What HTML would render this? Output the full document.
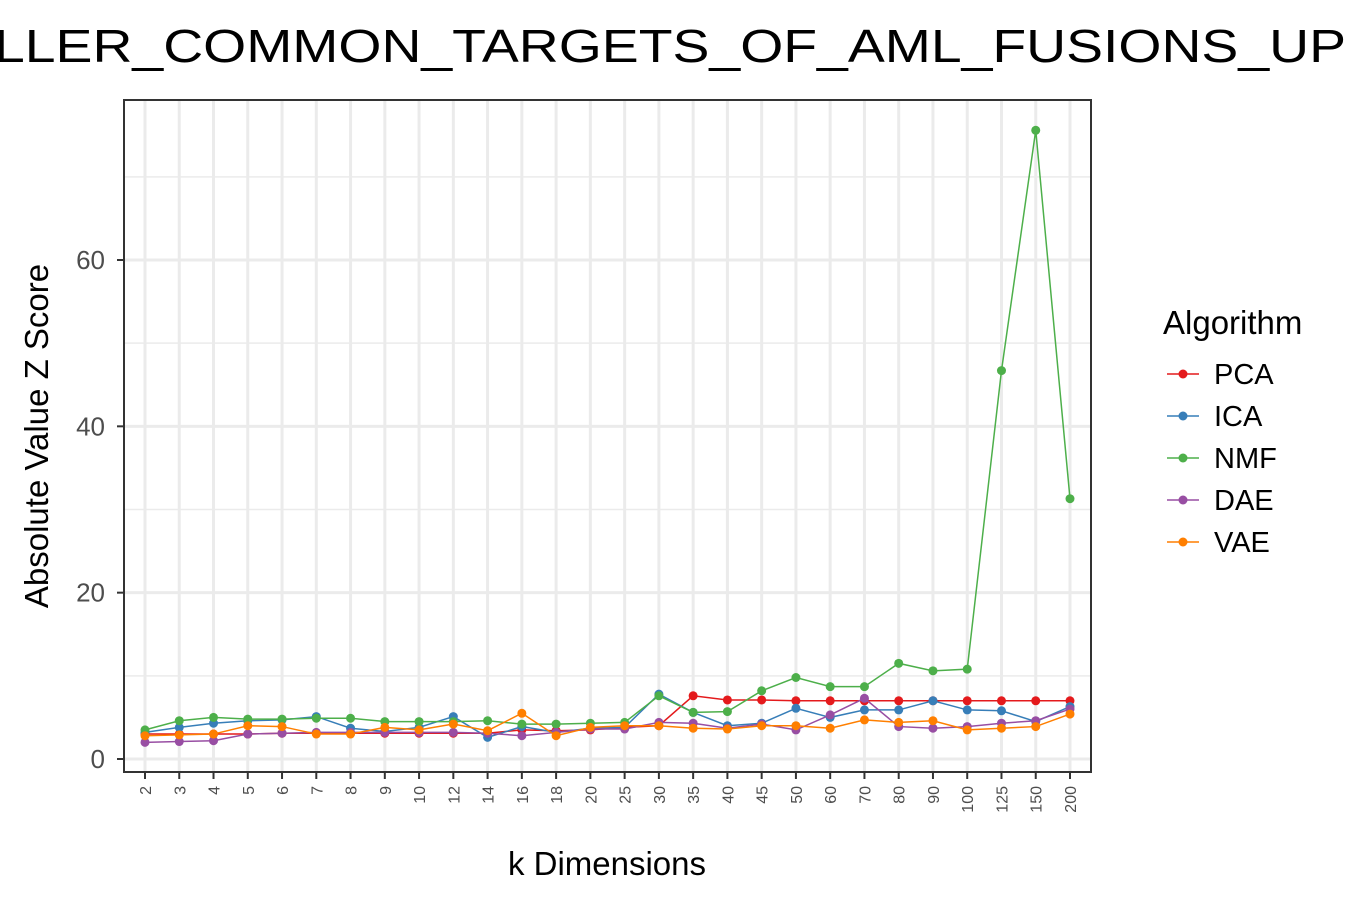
<!DOCTYPE html>
<html><head><meta charset="utf-8"><style>
body{margin:0;background:#fff;font-family:"Liberation Sans",Arial,sans-serif}
</style></head><body>
<svg id="chart" width="1350" height="900" xmlns="http://www.w3.org/2000/svg" font-family="Liberation Sans, Arial, sans-serif">
<text x="-6" y="62" font-size="46" textLength="1352" lengthAdjust="spacingAndGlyphs">LLER_COMMON_TARGETS_OF_AML_FUSIONS_UP</text>
<g id="grid"></g>
<g id="series"></g>
<rect x="124" y="100" width="967" height="672" fill="none" stroke="#333" stroke-width="2"/>
<g id="axes"></g>
<text x="607" y="875" font-size="33" text-anchor="middle">k Dimensions</text>
<text transform="translate(48,436) rotate(-90)" font-size="33" text-anchor="middle">Absolute Value Z Score</text>
<g id="legend"></g>
</svg>
<script>
const categories=["2","3","4","5","6","7","8","9","10","12","14","16","18","20","25","30","35","40","45","50","60","70","80","90","100","125","150","200"];
const yTicks=[0,20,40,60];
const yMinor=[10,30,50,70];
const seriesNames=["PCA","ICA","NMF","DAE","VAE"];
const seriesColors=["#E41A1C","#377EB8","#4DAF4A","#984EA3","#FF7F00"];
const pca=[3.0,3.0,3.0,3.0,3.1,3.1,3.1,3.1,3.1,3.1,3.1,3.5,3.4,3.5,3.8,4.0,7.6,7.1,7.1,7.0,7.0,7.0,7.0,7.0,7.0,7.0,7.0,7.0];
const ica=[3.2,3.8,4.3,4.6,4.7,5.1,3.7,3.3,3.8,5.1,2.6,3.9,3.2,3.7,3.8,7.8,5.6,4.0,4.3,6.1,5.0,5.9,5.9,7.0,5.9,5.8,4.5,6.3];
const nmf=[3.5,4.6,5.0,4.8,4.8,4.9,4.9,4.5,4.5,4.5,4.6,4.2,4.2,4.3,4.4,7.6,5.6,5.7,8.2,9.8,8.7,8.7,11.5,10.6,10.8,46.7,75.6,31.3];
const dae=[2.0,2.1,2.2,3.0,3.1,3.2,3.2,3.2,3.2,3.2,3.1,2.8,3.2,3.6,3.6,4.4,4.3,3.7,4.2,3.5,5.3,7.3,3.9,3.7,3.9,4.3,4.6,6.0];
const vae=[2.8,2.9,3.0,4.0,3.9,3.0,3.0,3.8,3.5,4.2,3.4,5.5,2.8,3.8,4.0,4.0,3.7,3.6,4.0,4.0,3.7,4.7,4.4,4.6,3.5,3.7,3.9,5.4];
const allSeries=[pca,ica,nmf,dae,vae];
const NS="http://www.w3.org/2000/svg";
function X(i){return 145+i*(1070-145)/(categories.length-1);}
function Y(v){return 759-v*(759-260)/60;}
function mk(tag,attrs,parent){const e=document.createElementNS(NS,tag);for(const k in attrs)e.setAttribute(k,attrs[k]);parent.appendChild(e);return e;}
const grid=document.getElementById('grid'),axes=document.getElementById('axes'),ser=document.getElementById('series'),leg=document.getElementById('legend');
yMinor.forEach(v=>{const l=mk('line',{x1:124,x2:1091,y1:Y(v),y2:Y(v),stroke:'#ebebeb','stroke-width':1.5},grid);

});
yTicks.forEach(v=>{const l=mk('line',{x1:124,x2:1091,y1:Y(v),y2:Y(v),stroke:'#ebebeb','stroke-width':3},grid);


const t=mk('line',{x1:117,x2:124,y1:Y(v),y2:Y(v),stroke:'#333','stroke-width':2},axes);


const tx=mk('text',{x:105,y:Y(v)+9,'font-size':26,fill:'#4d4d4d','text-anchor':'end'},axes);tx.textContent=v;

});
categories.forEach((c,i)=>{const l=mk('line',{x1:X(i),x2:X(i),y1:100,y2:772,stroke:'#ebebeb','stroke-width':3},grid);


const t=mk('line',{x1:X(i),x2:X(i),y1:772,y2:779,stroke:'#333','stroke-width':2},axes);


const tx=mk('text',{transform:`translate(${X(i)+6},786) rotate(-90)`,'font-size':16,fill:'#4d4d4d','text-anchor':'end'},axes);tx.textContent=c;

});
allSeries.forEach((s,k)=>{const pts=s.map((v,i)=>X(i)+','+Y(v)).join(' ');
const pl=mk('polyline',{points:pts,fill:'none',stroke:seriesColors[k],'stroke-width':1.5},ser);


s.forEach((v,i)=>{const c=mk('circle',{cx:X(i),cy:Y(v),r:4.5,fill:seriesColors[k]},ser);

});});
const lt=mk('text',{x:1163,y:334,'font-size':33},leg);lt.textContent='Algorithm';


seriesNames.forEach((n,k)=>{const y=374+k*42;
const g=mk('g',{},leg);


mk('line',{x1:1167,x2:1199,y1:y,y2:y,stroke:seriesColors[k],'stroke-width':1.5},g);
mk('circle',{cx:1183,cy:y,r:4.5,fill:seriesColors[k]},g);
const t=mk('text',{x:1214,y:y+10,'font-size':29},g);t.textContent=n;});
</script>
</body></html>
